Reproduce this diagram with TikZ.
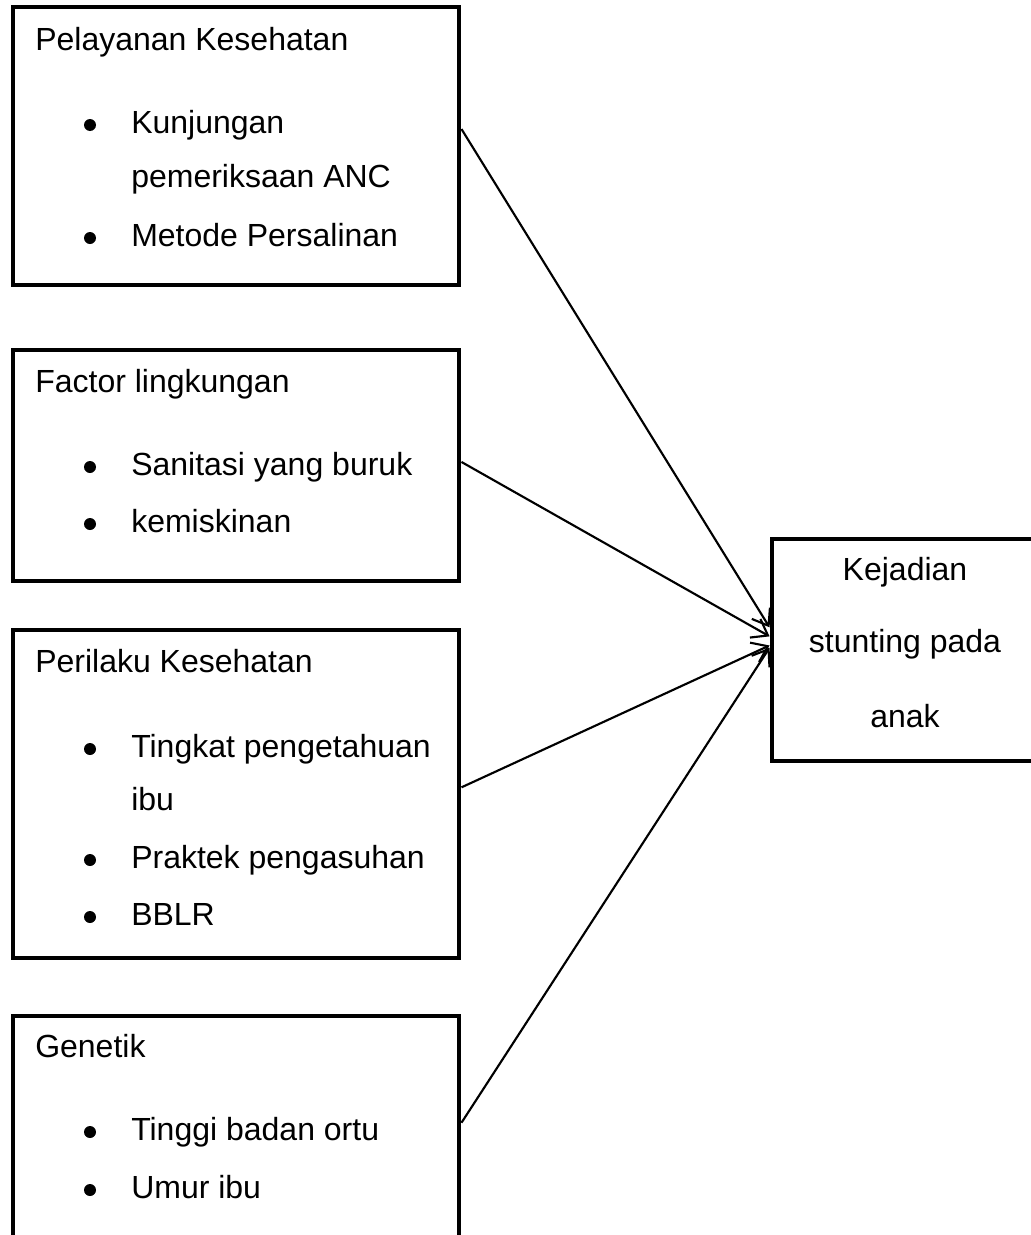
\documentclass[tikz,border=0pt]{standalone}
\usepackage{fontspec}
\setmainfont{Liberation Sans}
\usepackage{tikz}
\usetikzlibrary{arrows.meta, positioning, calc, fit}

\tikzset{
    box/.style={draw, line width=3.7pt, inner sep=0pt},
    txt/.style={anchor=base west, inner sep=0pt},
    bul/.style={circle, fill, inner sep=0pt, minimum size=9pt},
    mid/.style={anchor=base, inner sep=0pt},
    link/.style={line width=1.6pt, -{Straight Barb[length=11pt,width=16pt,line width=1.6pt]}}
}

\begin{document}
\begin{tikzpicture}[x=0.75pt, y=-0.75pt, font=\fontsize{24}{29}\selectfont]
    \useasboundingbox (0,0) rectangle (1031,1235);
    \clip (0,0) rectangle (1031,1235);

    % kotak faktor
    \node[box, fit={(13,7) (459,285)}] (pk) {};
    \node[txt] (pk-t) at (35,50) {Pelayanan Kesehatan};
    \node[bul] (pk-b1) at (90,125) {};
    \node[txt] (pk-1a) at (131,133) {Kunjungan};
    \node[txt] (pk-1b) at (131,187) {pemeriksaan ANC};
    \node[bul] (pk-b2) at (90,238) {};
    \node[txt] (pk-2) at (131,246) {Metode Persalinan};

    \node[box, fit={(13,350) (459,581)}] (fl) {};
    \node[txt] (fl-t) at (35,392) {Factor lingkungan};
    \node[bul] (fl-b1) at (90,467) {};
    \node[txt] (fl-1) at (131,475) {Sanitasi yang buruk};
    \node[bul] (fl-b2) at (90,524) {};
    \node[txt] (fl-2) at (131,532) {kemiskinan};

    \node[box, fit={(13,630) (459,958)}] (pr) {};
    \node[txt] (pr-t) at (35,672) {Perilaku Kesehatan};
    \node[bul] (pr-b1) at (90,749) {};
    \node[txt] (pr-1a) at (131,757) {Tingkat pengetahuan};
    \node[txt] (pr-1b) at (131,810) {ibu};
    \node[bul] (pr-b2) at (90,860) {};
    \node[txt] (pr-2) at (131,868) {Praktek pengasuhan};
    \node[bul] (pr-b3) at (90,917) {};
    \node[txt] (pr-3) at (131,925) {BBLR};

    \node[box, fit={(13,1016) (459,1265)}] (gn) {};
    \node[txt] (gn-t) at (35,1057) {Genetik};
    \node[bul] (gn-b1) at (90,1132) {};
    \node[txt] (gn-1) at (131,1140) {Tinggi badan ortu};
    \node[bul] (gn-b2) at (90,1190) {};
    \node[txt] (gn-2) at (131,1198) {Umur ibu};

    % kotak hasil
    \node[box, fit={(772,539) (1060,761)}] (ks) {};
    \node[mid] (ks-1) at (905,580) {Kejadian};
    \node[mid] (ks-2) at (905,652) {stunting pada};
    \node[mid] (ks-3) at (905,727) {anak};

    % panah
    \draw[link] ($(pk.north east)!0.44!(pk.south east)$) -- ($(ks.north west)!0.40!(ks.south west)$);
    \draw[link] ($(fl.north east)!0.485!(fl.south east)$) -- ($(ks.north west)!0.44!(ks.south west)$);
    \draw[link] ($(pr.north east)!0.48!(pr.south east)$) -- ($(ks.north west)!0.48!(ks.south west)$);
    \draw[link] ($(gn.north east)!0.43!(gn.south east)$) -- ($(ks.north west)!0.49!(ks.south west)$);
\end{tikzpicture}
\end{document}
